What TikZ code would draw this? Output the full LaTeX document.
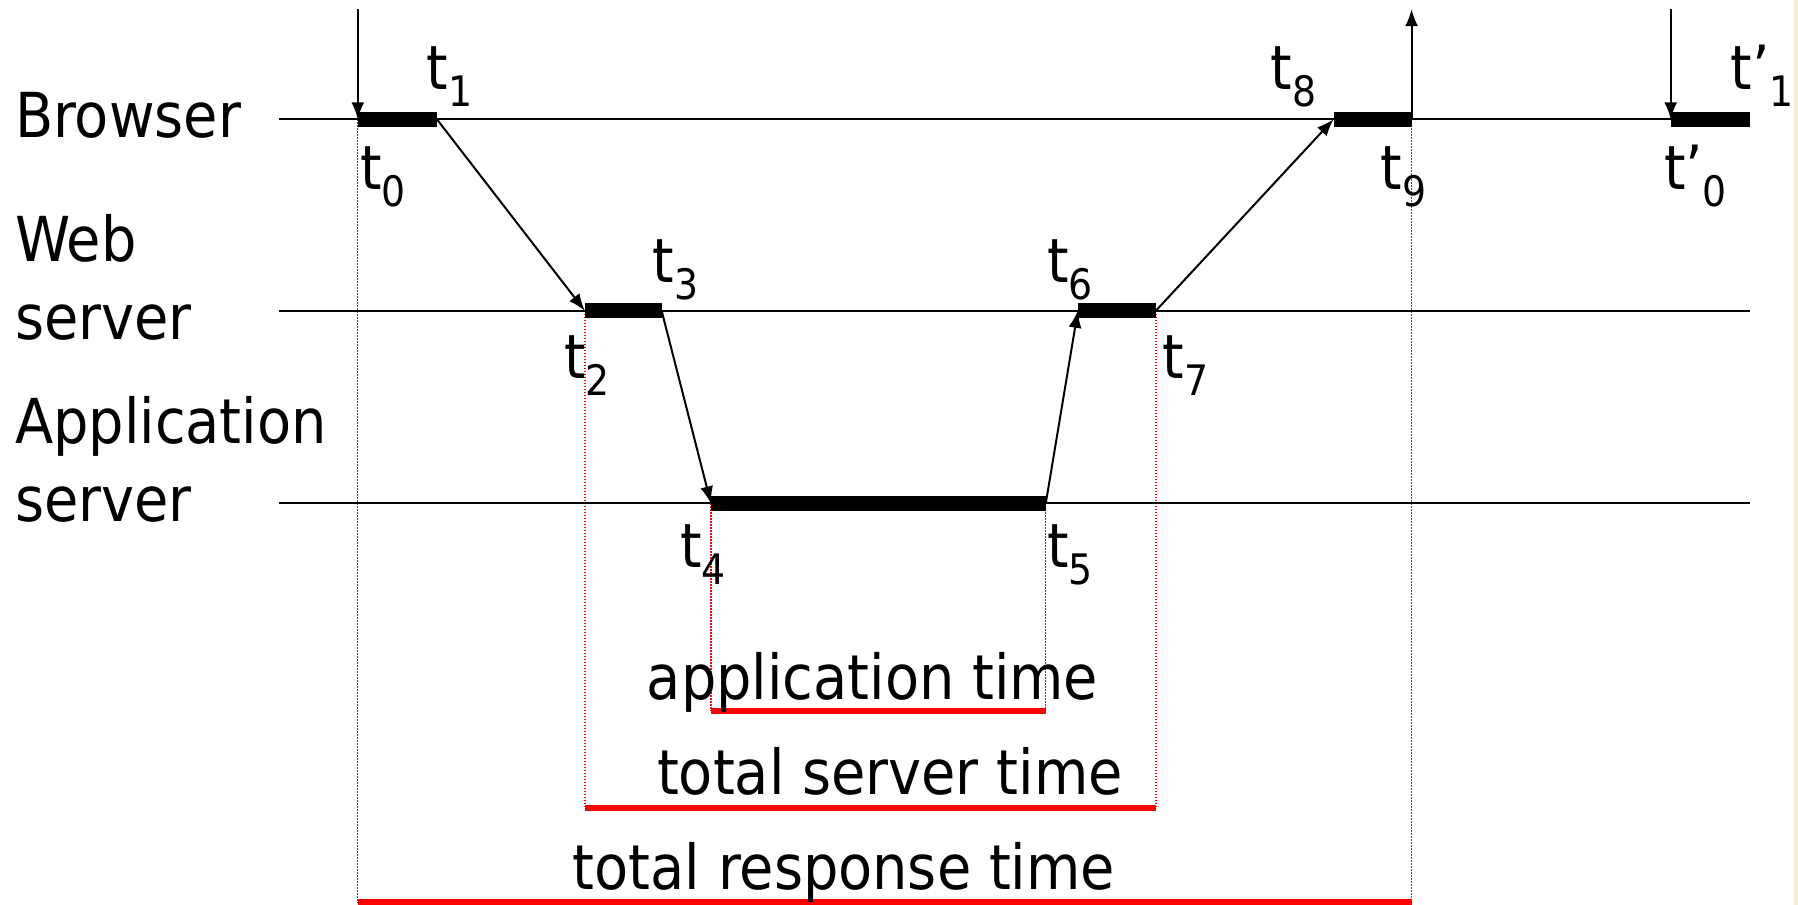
\documentclass[tikz,border=0pt]{standalone}
\usepackage{fontspec}
\setmainfont{DejaVu Sans Condensed}
\usetikzlibrary{arrows.meta}
\newcommand\tlab[1]{t\raisebox{-0.28em}{\fontsize{42}{42}\selectfont #1}}
\begin{document}
\begin{tikzpicture}[x=1.1467pt,y=-1.1467pt,
  lifeline/.style={line width=1.8pt,black},
  busy/.style={line width=15pt,black},
  msg/.style={line width=2pt,-{Latex[length=17pt,width=13pt]}},
  guide/.style={red,line width=1.4pt,dash pattern=on 1.5pt off 1.5pt},
  span/.style={red,line width=6pt},
  lab/.style={inner sep=0pt,anchor=base west,font=\fontsize{62}{62}\selectfont},
  tl/.style={inner sep=0pt,anchor=base west,font=\fontsize{61}{61}\selectfont}]
\useasboundingbox (0,0) rectangle (1568,789);
\fill[fill={rgb,255:red,245;green,240;blue,200}] (1564.5,0) rectangle (1568,789);
% coordinates
\coordinate (bL) at (243,104); \coordinate (bR) at (1526,104);
\coordinate (wL) at (243,271); \coordinate (wR) at (1526,271);
\coordinate (aL) at (243,439); \coordinate (aR) at (1526,439);
\coordinate (t0) at (312,104); \coordinate (t1) at (381,104);
\coordinate (t2) at (510,271); \coordinate (t3) at (577,271);
\coordinate (t4) at (620,439); \coordinate (t5) at (912,439);
\coordinate (t6) at (940,271); \coordinate (t7) at (1008,271);
\coordinate (t8) at (1163,104); \coordinate (t9) at (1231,104);
\coordinate (u0) at (1457,104); \coordinate (u1) at (1526,104);
\coordinate (in0) at (312,8); \coordinate (out9) at (1231,8); \coordinate (inu) at (1457,8);
\coordinate (r0) at (312,787); \coordinate (r9) at (1231,787);
\coordinate (s2) at (510,705); \coordinate (s7) at (1008,705);
\coordinate (p4) at (620,620); \coordinate (p5) at (912,620);
% guides
\draw[guide] (t0) -- (r0);
\draw[guide] (t9) -- (r9);
\draw[guide] (t2) -- (s2);
\draw[guide] (t7) -- (s7);
\draw[guide] (t4) -- (p4);
\draw[guide] (t5) -- (p5);
% lifelines
\draw[lifeline] (bL) -- (bR);
\draw[lifeline] (wL) -- (wR);
\draw[lifeline] (aL) -- (aR);
% busy bars
\draw[busy] (t0) -- (t1);
\draw[busy] (t2) -- (t3);
\draw[busy] (t4) -- (t5);
\draw[busy] (t6) -- (t7);
\draw[busy] (t8) -- (t9);
\draw[busy] (u0) -- (u1);
% messages
\draw[msg] (in0) -- (t0);
\draw[msg] (t1) -- (t2);
\draw[msg] (t3) -- (t4);
\draw[msg] (t5) -- (t6);
\draw[msg] (t7) -- (t8);
\draw[msg] (t9) -- (out9);
\draw[msg] (inu) -- (u0);
% spans
\draw[span] (p4) -- (p5);
\draw[span] (s2) -- (s7);
\draw[span] (r0) -- (r9);
% lane labels
\node[lab] (lb) at (13,120) {Browser};
\node[lab] (lw1) at (13,228) {Web};
\node[lab] (lw2) at (13,296) {server};
\node[lab] (la1) at (13,387) {Application};
\node[lab] (la2) at (13,455) {server};
% time labels
\node[tl] (n0) at (314,165) {\tlab{0}};
\node[tl] (n1) at (372,78) {\tlab{1}};
\node[tl] (n2) at (492,330) {\tlab{2}};
\node[tl] (n3) at (569,246) {\tlab{3}};
\node[tl] (n4) at (593,495) {\tlab{4}};
\node[tl] (n5) at (913,495) {\tlab{5}};
\node[tl] (n6) at (913,246) {\tlab{6}};
\node[tl] (n7) at (1014,330) {\tlab{7}};
\node[tl] (n8) at (1108,78) {\tlab{8}};
\node[tl] (n9) at (1204,165) {\tlab{9}};
\node[tl] (m0) at (1451,165) {t’\raisebox{-0.28em}{\fontsize{42}{42}\selectfont 0}};
\node[tl] (m1) at (1509,78) {t’\raisebox{-0.28em}{\fontsize{42}{42}\selectfont 1}};
% span labels
\node[lab,anchor=base] (ta) at (761,610) {application time};
\node[lab,anchor=base] (ts) at (776,693) {total server time};
\node[lab,anchor=base] (tr) at (736,776) {total response time};
\end{tikzpicture}
\end{document}
